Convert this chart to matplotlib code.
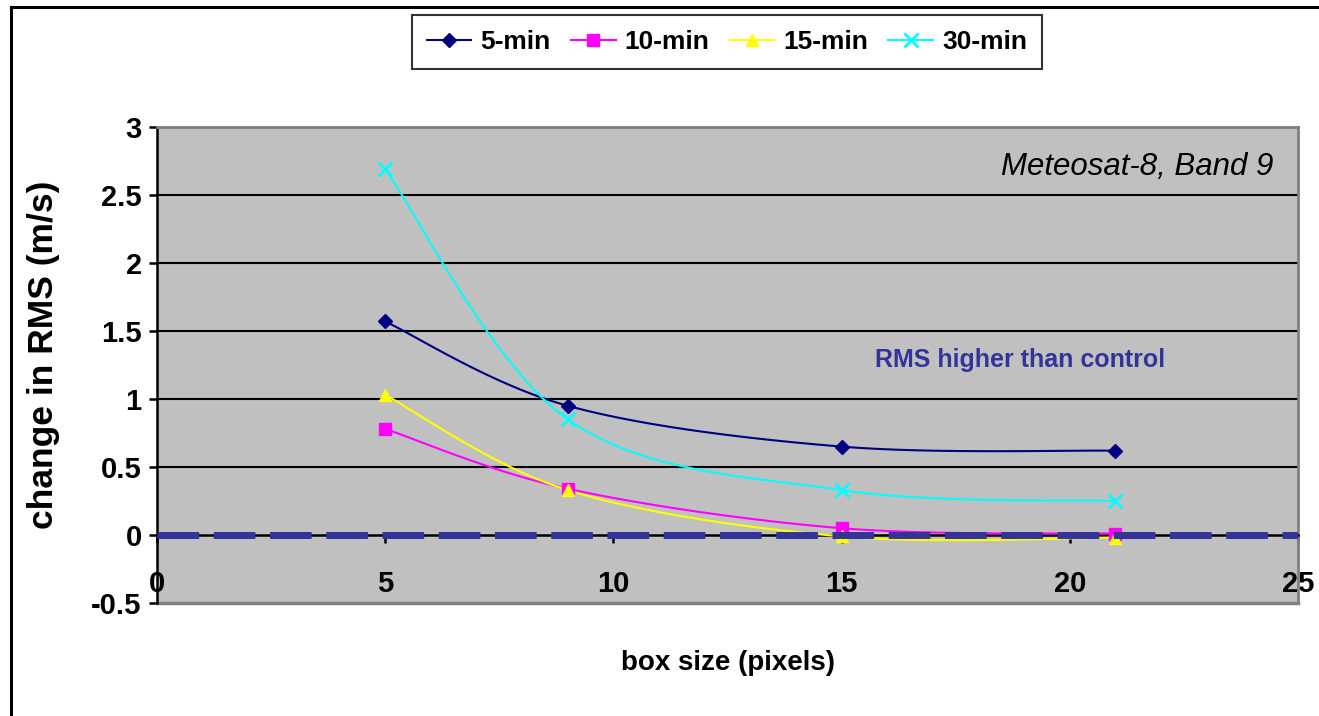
import numpy as np
import matplotlib
matplotlib.use("Agg")
import matplotlib.pyplot as plt
from matplotlib.lines import Line2D

box_size = [5, 9, 15, 21]
series_names = ["5-min", "10-min", "15-min", "30-min"]
rms_5 = [1.57, 0.95, 0.65, 0.62]
rms_10 = [0.78, 0.34, 0.05, 0.01]
rms_15 = [1.03, 0.33, -0.01, -0.02]
rms_30 = [2.69, 0.85, 0.33, 0.25]
x_ticks = [0, 5, 10, 15, 20, 25]
y_ticks = [-0.5, 0, 0.5, 1, 1.5, 2, 2.5, 3]
y_tick_labels = ["-0.5", "0", "0.5", "1", "1.5", "2", "2.5", "3"]

colors = ["#000080", "#FF00FF", "#FFFF00", "#00FFFF"]
markers = ["D", "s", "^", "x"]
msizes = [7, 8, 9, 10]

def smooth(xs, ys, n=40):
    # Excel-like smoothed line (Catmull-Rom Bezier) through the points
    P = np.column_stack([xs, ys]).astype(float)
    out = []
    for i in range(len(P) - 1):
        p0 = P[i - 1] if i > 0 else P[i]
        p1 = P[i]
        p2 = P[i + 1]
        p3 = P[i + 2] if i + 2 < len(P) else P[i + 1]
        c1 = p1 + (p2 - p0) / 6.0
        c2 = p2 - (p3 - p1) / 6.0
        t = np.linspace(0, 1, n)[:, None]
        seg = ((1 - t) ** 3) * p1 + 3 * ((1 - t) ** 2) * t * c1 + 3 * (1 - t) * t ** 2 * c2 + t ** 3 * p2
        out.append(seg if i == 0 else seg[1:])
    s = np.vstack(out)
    return s[:, 0], s[:, 1]

plt.rcParams['font.family'] = ['Liberation Sans', 'DejaVu Sans']

fig = plt.figure(figsize=(13.19, 7.16), dpi=100)
fig.patch.set_facecolor("white")
fig.add_artist(Line2D([11/1319, 11/1319], [0, 1 - 7/716], transform=fig.transFigure, color="black", lw=2.2))
fig.add_artist(Line2D([11/1319, 1], [1 - 7/716, 1 - 7/716], transform=fig.transFigure, color="black", lw=2.2))

ax = fig.add_axes([157/1319, (716-603)/716, (1298-157)/1319, (603-127)/716])
ax.set_facecolor("#C0C0C0")
ax.set_xlim(0, 25)
ax.set_ylim(-0.5, 3)

for yv in [0.5, 1, 1.5, 2, 2.5]:
    ax.axhline(yv, color="black", lw=1.5, zorder=1)

data = [rms_5, rms_10, rms_15, rms_30]
handles = []
for name, ys, c, m, ms in zip(series_names, data, colors, markers, msizes):
    sx, sy = smooth(box_size, ys)
    ax.plot(sx, sy, color=c, lw=1.5, zorder=3)
    ax.plot(box_size, ys, linestyle="none", marker=m, color=c, ms=ms,
            mew=2 if m == "x" else 1, zorder=4)
    handles.append(Line2D([], [], color=c, lw=1.5, marker=m, ms=ms,
                          mew=2 if m == "x" else 1, label=name))

ax.axhline(0, color="#333399", lw=5, dashes=(6.0, 2.1), zorder=5)

ax.spines["top"].set_color("#808080")
ax.spines["right"].set_color("#808080")
ax.spines["top"].set_linewidth(2)
ax.spines["right"].set_linewidth(2)
ax.spines["left"].set_color("black")
ax.spines["left"].set_linewidth(1.8)
ax.spines["left"].set_position(("data", 0))
ax.spines["bottom"].set_position(("data", 0))
ax.spines["bottom"].set_color("black")
ax.spines["bottom"].set_linewidth(1.8)
ax.add_artist(Line2D([0, 1], [0, 0], transform=ax.transAxes, color="#808080", lw=2.5, clip_on=False))

ax.set_yticks(y_ticks)
ax.set_xticks(x_ticks)
ax.tick_params(axis="y", direction="out", length=6, width=1.8, pad=5)
ax.tick_params(axis="x", direction="out", length=6, width=1.8, pad=19)
ax.set_yticklabels(y_tick_labels, fontsize=21, fontweight="bold")
ax.set_xticklabels([str(v) for v in x_ticks], fontsize=21, fontweight="bold")

ax.text(0.978, 0.916, "Meteosat-8, Band 9", transform=ax.transAxes, ha="right", va="center",
        fontsize=22.5, fontstyle="italic")
ax.text(0.756, 0.51, "RMS higher than control", transform=ax.transAxes, ha="center", va="center",
        fontsize=18, fontweight="bold", color="#333399")

fig.text(44/1319, 1 - 355/716, "change in RMS (m/s)", rotation=90, ha="center", va="center",
         fontsize=25.5, fontweight="bold")
fig.text(728/1319, 1 - 663/716, "box size (pixels)", ha="center", va="center",
         fontsize=20, fontweight="bold")

leg = fig.legend(handles=handles, loc="center", bbox_to_anchor=(727/1319, 1 - 42/716), ncol=4,
                 frameon=True, fancybox=False, edgecolor="black",
                 prop={"size": 19, "weight": "bold"},
                 handlelength=1.7, columnspacing=0.75, handletextpad=0.35, borderpad=0.55)
leg.get_frame().set_linewidth(1.5)

fig.savefig("out.png", dpi=100, facecolor="white")
